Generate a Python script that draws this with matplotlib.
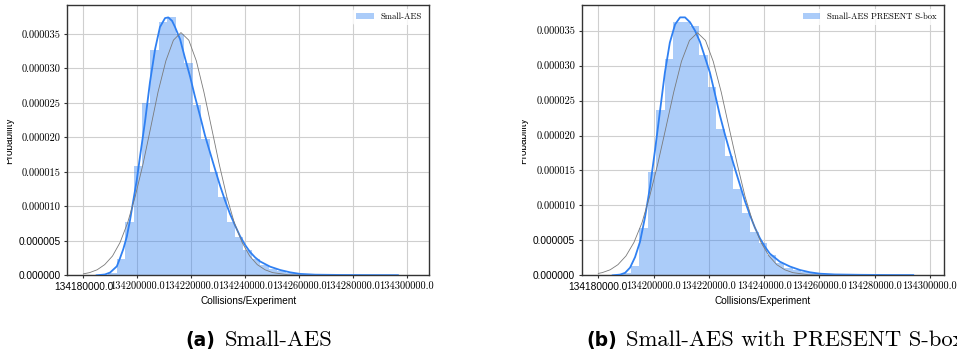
import numpy as np
import matplotlib
matplotlib.use("Agg")
import matplotlib.pyplot as plt
from matplotlib.transforms import Bbox, TransformedBbox

# all densities below in units of 1e-6
SCALE = 1e-6

x_ticks = [134180000, 134200000, 134220000, 134240000, 134260000, 134280000, 134300000]
y_ticks = [0, 5, 10, 15, 20, 25, 30, 35]

# (a) Small-AES
hist_a_start = 134189200
hist_a_width = 3137
hist_a = [0.4, 2.4, 7.7, 15.9, 25.0, 32.7, 36.7, 37.5, 35.0, 30.8,
          24.7, 19.8, 15.0, 11.4, 7.8, 5.6, 3.7, 2.4, 1.5, 0.95,
          0.6, 0.38, 0.24, 0.15, 0.1, 0.07, 0.05, 0.04, 0.03, 0.03,
          0.02, 0.02, 0.02, 0.02]
kde_a_x = [134184900, 134188000, 134189900, 134192400, 134193600, 134194800,
           134196100, 134197300, 134198500, 134199800, 134201000, 134202900,
           134204700, 134206600, 134208400, 134210300, 134211500, 134212900,
           134214000, 134215900, 134217700, 134219600, 134221400, 134223300,
           134225100, 134227000, 134228900, 134230700, 134232600, 134234400,
           134236300, 134238100, 134240000, 134241800, 134243700, 134245600,
           134249300, 134253000, 134256700, 134260400, 134266000, 134275300,
           134286400, 134296700]
kde_a_y = [0.0, 0.12, 0.4, 1.3, 2.5, 3.8, 5.6, 8.0, 10.8, 13.8, 17.2, 22.4,
           28.0, 32.8, 36.0, 37.3, 37.4, 36.9, 36.0, 34.2, 31.5, 28.8, 25.9,
           23.1, 20.3, 17.8, 15.3, 13.0, 10.8, 8.9, 7.2, 5.7, 4.4, 3.4, 2.6,
           2.0, 1.25, 0.77, 0.43, 0.2, 0.09, 0.05, 0.03, 0.02]
fit_a_x = [134180000, 134182300, 134185100, 134187900, 134190800, 134193600,
           134196400, 134199200, 134202100, 134204900, 134207700, 134210600,
           134213400, 134216200, 134219100, 134221900, 134224700, 134227600,
           134230400, 134233200, 134236000, 134238900, 134241700, 134244500,
           134247400, 134250200, 134255900, 134261500, 134297000]
fit_a_y = [0.21, 0.39, 0.80, 1.55, 2.80, 4.76, 7.61, 11.4, 16.1, 21.3, 26.6,
           31.1, 34.1, 35.2, 34.1, 31.1, 26.6, 21.3, 16.1, 11.4, 7.61, 4.76,
           2.80, 1.55, 0.80, 0.39, 0.08, 0.01, 0.0]

# (b) Small-AES with PRESENT S-box
hist_b_start = 134188700
hist_b_width = 3083
hist_b = [0.3, 1.3, 6.8, 14.8, 23.7, 30.9, 36.3, 36.3, 35.7, 31.5,
          26.9, 20.9, 17.0, 12.3, 8.9, 6.2, 4.6, 2.9, 1.7, 1.1,
          0.7, 0.45, 0.3, 0.2, 0.13, 0.09, 0.06, 0.05, 0.04, 0.03,
          0.03, 0.02, 0.02, 0.02]
kde_b_x = [134185200, 134187900, 134189700, 134191500, 134193300, 134195100,
           134196900, 134198700, 134200500, 134202300, 134204100, 134205900,
           134207800, 134209600, 134211400, 134213200, 134215000, 134216800,
           134218600, 134220400, 134222200, 134224000, 134225800, 134227600,
           134229500, 134231300, 134233100, 134234900, 134236700, 134238500,
           134240300, 134242100, 134245700, 134249400, 134253000, 134256600,
           134260200, 134265600, 134274700, 134285500, 134294000]
kde_b_y = [0.0, 0.1, 0.35, 1.1, 2.6, 4.8, 8.3, 12.6, 17.8, 23.4, 29.0, 33.3,
           35.9, 36.9, 36.9, 36.2, 35.0, 33.4, 31.2, 29.0, 26.0, 22.9, 20.2,
           17.7, 15.2, 12.9, 10.6, 8.6, 6.8, 5.3, 4.1, 3.1, 1.95, 1.25, 0.76,
           0.43, 0.23, 0.12, 0.07, 0.04, 0.03]
fit_b_x = [134180000, 134181400, 134184300, 134187100, 134190000, 134192900,
           134195800, 134198600, 134201500, 134204400, 134207300, 134210100,
           134213000, 134215900, 134218800, 134221600, 134224500, 134227400,
           134230300, 134233100, 134236000, 134238900, 134241800, 134244600,
           134247500, 134250400, 134256100, 134261900, 134293600]
fit_b_y = [0.27, 0.38, 0.79, 1.52, 2.76, 4.70, 7.51, 11.3, 15.9, 21.0, 26.2,
           30.6, 33.6, 34.7, 33.6, 30.6, 26.2, 21.0, 15.9, 11.3, 7.51, 4.70,
           2.76, 1.52, 0.79, 0.38, 0.08, 0.01, 0.0]

blue = "#2f80f2"
W, H = 957, 359

fig = plt.figure(figsize=(W / 100, H / 100), dpi=100)

serif = {"family": "cmr10", "size": 7.5}
sans = {"family": "Liberation Sans", "size": 7.3}


def draw_panel(left_px, xlim, ytop, start, width, heights, kx, ky, fx, fy, legend_label):
    ax = fig.add_axes([left_px / W, (H - 275.3) / H, 362.4 / W, 270.3 / H])
    edges = start + width * np.arange(len(heights) + 1)
    ax.stairs(np.array(heights) * SCALE, edges, fill=True, color=blue, alpha=0.4,
              linewidth=0, label=legend_label, zorder=2)
    ax.plot(kx, np.array(ky) * SCALE, color=blue, lw=1.3, zorder=3)
    ax.plot(fx, np.array(fy) * SCALE, color="#7a7a7a", lw=0.6, zorder=3)

    ax.set_xlim(*xlim)
    ax.set_ylim(0, ytop * SCALE)
    ax.set_xticks(x_ticks)
    ax.set_yticks([v * SCALE for v in y_ticks])
    xl = ax.set_xticklabels(["%.1f" % v for v in x_ticks])
    yl = ax.set_yticklabels(["%.6f" % (v * SCALE) for v in y_ticks])
    for i, t in enumerate(xl):
        t.set_fontproperties(sans if i == 0 else serif)
    for i, t in enumerate(yl):
        t.set_fontproperties(sans if i < 2 else serif)

    ax.grid(True, color="#cfcfcf", lw=0.8, zorder=0)
    ax.set_axisbelow(True)
    ax.tick_params(length=2.5, width=0.8, color="#333333", pad=2.2)
    for s in ax.spines.values():
        s.set_color("#333333")
        s.set_linewidth(1.0)
    ax.set_xlabel("Collisions/Experiment", family="Liberation Sans", fontsize=7.2, labelpad=3)
    leg = ax.legend(loc="upper right", prop={"family": "cmr10", "size": 6.2})
    leg.get_frame().set_edgecolor("none")
    return ax


draw_panel(67, (134173910, 134308390), 39.2, hist_a_start, hist_a_width, hist_a,
           kde_a_x, kde_a_y, fit_a_x, fit_a_y, "Small-AES")
draw_panel(581.7, (134173990, 134305170), 38.67, hist_b_start, hist_b_width, hist_b,
           kde_b_x, kde_b_y, fit_b_x, fit_b_y, "Small-AES PRESENT S-box")

# y labels, partly cut off at the left like in the source picture
for right_px, clip_px in [(14.0, 7.3), (528.5, 521.7)]:
    t = fig.text(right_px / W, (H - 141) / H, "Probability", rotation=90,
                 ha="right", va="center", family="Liberation Sans", fontsize=7.2)
    t.set_clip_box(TransformedBbox(Bbox.from_extents(clip_px / W, 0, (clip_px + 30) / W, 1),
                                   fig.transFigure))
    t.set_clip_on(True)

# sub-captions
base_y = (H - 346) / H
fig.text(215 / W, base_y, "(a)", ha="right", va="baseline", family="DejaVu Sans",
         weight="bold", fontsize=13.5)
fig.text(225 / W, base_y, "Small-AES", ha="left", va="baseline", family="cmr10", fontsize=16.3)
fig.text(616.7 / W, base_y, "(b)", ha="right", va="baseline", family="DejaVu Sans",
         weight="bold", fontsize=13.5)
fig.text(625.7 / W, base_y, "Small-AES with PRESENT S-box", ha="left", va="baseline",
         family="cmr10", fontsize=16.3)

fig.savefig("out.png", dpi=100)
